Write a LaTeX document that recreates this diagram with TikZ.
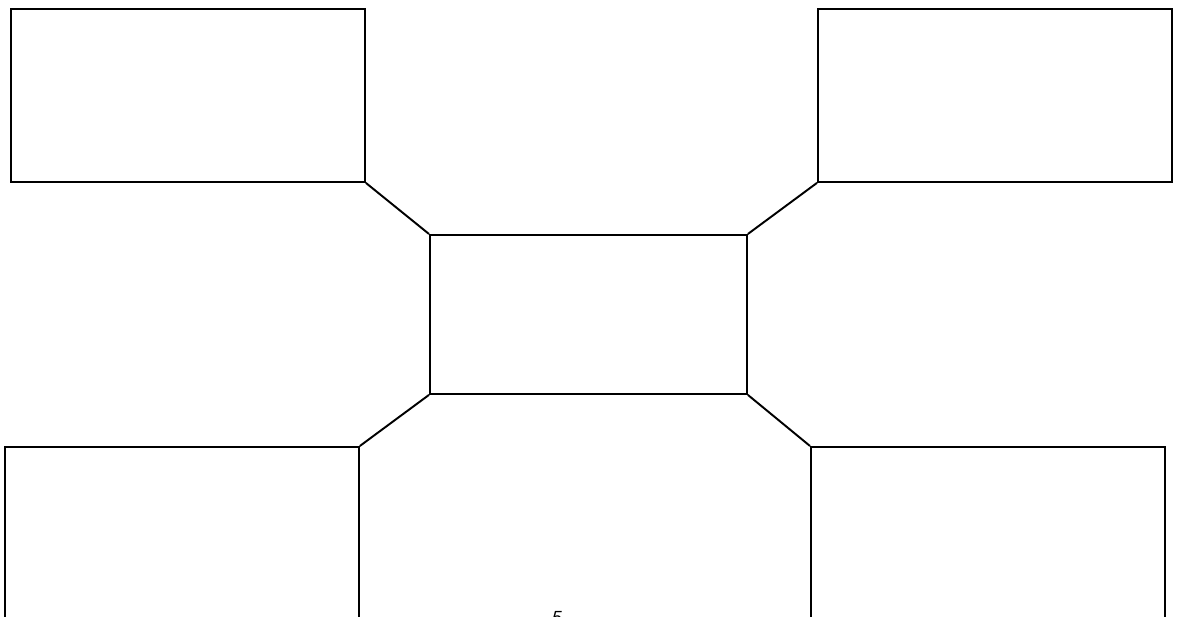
\documentclass[tikz,border=0pt]{standalone}
\usepackage{fontspec}
\setmainfont{Liberation Sans}
\usepackage{tikz}
\usetikzlibrary{positioning, calc}
\tikzset{
  outerbox/.style={rectangle, draw=black, fill=white,
    minimum width=7.08cm, minimum height=3.46cm,
    inner sep=0pt, line width=1.1pt},
  centerbox/.style={rectangle, draw=black, fill=white,
    minimum width=6.34cm, minimum height=3.18cm,
    inner sep=0pt, line width=1.1pt},
  link/.style={line width=1.1pt, color=black}
}
\begin{document}
\begin{tikzpicture}[x=0.02cm, y=-0.02cm]
  \useasboundingbox (0,0) rectangle (1181,617);

  % Top row
  \node[outerbox, anchor=north west] (topleft) at (10,8) {};
  \node[outerbox, anchor=north west] (topright) at (817,8) {};

  % Centre box
  \node[centerbox, anchor=north west] (centre) at (429,234) {};

  % Bottom row (runs off the page)
  \node[outerbox, anchor=north west] (botleft) at (4,446) {};
  \node[outerbox, anchor=north west] (botright) at (810,446) {};

  % Links between corners
  \draw[link] (topleft.south east) -- (centre.north west);
  \draw[link] (topright.south west) -- (centre.north east);
  \draw[link] (centre.south west) -- (botleft.north east);
  \draw[link] (centre.south east) -- (botright.north west);

  % Page number, cut by the edge
  \node[anchor=north, inner sep=0pt, font=\itshape] (pagenum) at (557,611) {5};
\end{tikzpicture}
\end{document}
